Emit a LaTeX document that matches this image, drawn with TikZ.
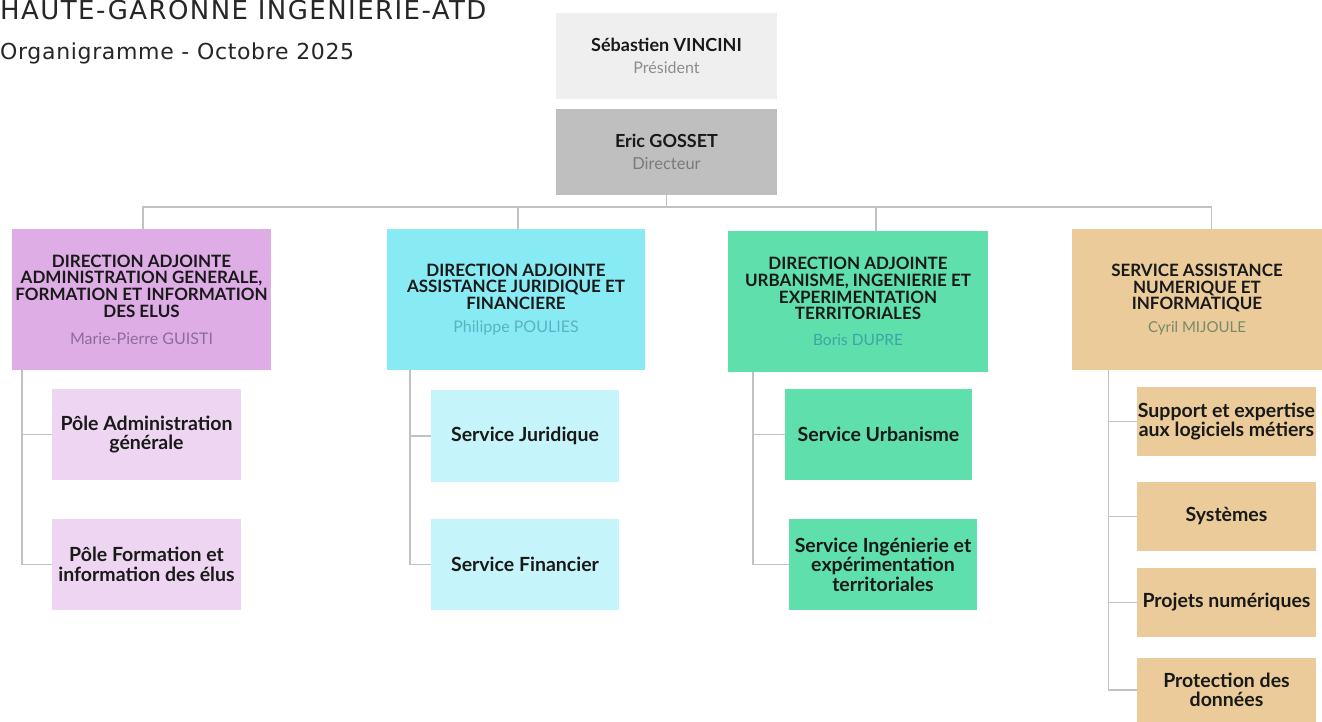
\documentclass[tikz,border=0pt]{standalone}
\usepackage{fontspec}
\setmainfont{Lato}
\newfontfamily\titlefont[LetterSpace=5.5]{DejaVu Sans}
\newfontfamily\subtitlefont[LetterSpace=3]{DejaVu Sans}
\usetikzlibrary{calc}

\definecolor{titlecol}{HTML}{262626}
\definecolor{presfill}{HTML}{EFEFEF}
\definecolor{dirfill}{HTML}{BFBFBF}
\definecolor{purplefill}{HTML}{DEADE6}
\definecolor{purplelight}{HTML}{EED6F2}
\definecolor{cyanfill}{HTML}{88EBF4}
\definecolor{cyanlight}{HTML}{C5F5FA}
\definecolor{greenfill}{HTML}{5EDFAB}
\definecolor{tanfill}{HTML}{EACB99}
\definecolor{linecol}{HTML}{C2C2C2}
\definecolor{presname}{HTML}{8C8C8C}
\definecolor{dirname}{HTML}{7A7A7A}
\definecolor{purplename}{HTML}{8E6C99}
\definecolor{cyanname}{HTML}{5AB2C2}
\definecolor{greenname}{HTML}{3CA5A6}
\definecolor{tanname}{HTML}{768A6A}

\tikzset{
  x=1pt, y=-1pt,
  box/.style={rectangle, inner sep=0pt, align=center, text=black!90},
  topbox/.style={box, minimum width=221pt, minimum height=86pt,
    font=\bfseries\fontsize{18}{20}\selectfont},
  headbox/.style={box, minimum height=141pt,
    font=\bfseries\fontsize{17}{16.7}\selectfont},
  subbox/.style={box, font=\bfseries\fontsize{19.5}{19.5}\selectfont},
  conn/.style={draw=linecol, line width=1.5pt},
}
\newcommand{\personname}[3][15.5]{{\mdseries\fontsize{#1}{16}\selectfont\color{#2}#3}}

\begin{document}
\begin{tikzpicture}
\useasboundingbox (0,0) rectangle (1322,722);
\fill[white] (0,0) rectangle (1322,722);

% heading
\node[anchor=base west, inner sep=0pt, text=titlecol,
      font=\titlefont\fontsize{26}{26}\selectfont] (title) at (0,20)
      {HAUTE-GARONNE INGENIERIE-ATD};
\node[anchor=base west, inner sep=0pt, text=titlecol,
      font=\subtitlefont\fontsize{22}{22}\selectfont] (subtitle) at (0,59.5)
      {Organigramme - Octobre 2025};

% top of the chart
\node[topbox, fill=presfill] (pres) at (666.5,56)
  {Sébastien VINCINI\\[2pt]\personname[16]{presname}{Président}};
\node[topbox, fill=dirfill] (dir) at (666.5,152)
  {Eric GOSSET\\[2pt]\personname[16.5]{dirname}{Directeur}};

% deputy directions and service
\node[headbox, fill=purplefill, minimum width=259pt] (da1) at (141.5,299.5)
  {DIRECTION ADJOINTE\\ADMINISTRATION GENERALE,\\FORMATION ET INFORMATION\\DES ELUS\\[10pt]\personname[16]{purplename}{Marie-Pierre GUISTI}};
\node[headbox, fill=cyanfill, minimum width=258pt] (da2) at (516,299.5)
  {DIRECTION ADJOINTE\\ASSISTANCE JURIDIQUE ET\\FINANCIERE\\[6pt]\personname[16]{cyanname}{Philippe POULIES}};
\node[headbox, fill=greenfill, minimum width=260pt] (da3) at (858,301.5)
  {DIRECTION ADJOINTE\\URBANISME, INGENIERIE ET\\EXPERIMENTATION\\TERRITORIALES\\[9pt]\personname[15.5]{greenname}{Boris DUPRE}};
\node[headbox, fill=tanfill, minimum width=250pt] (da4) at (1197,299.5)
  {SERVICE ASSISTANCE\\NUMERIQUE ET\\INFORMATIQUE\\[6pt]\personname[15]{tanname}{Cyril MIJOULE}};

% units
\node[subbox, fill=purplelight, minimum width=189pt, minimum height=91pt] (p1) at (146.5,434.5)
  {Pôle Administration\\générale};
\node[subbox, fill=purplelight, minimum width=189pt, minimum height=91pt] (p2) at (146.5,564.5)
  {Pôle Formation et\\information des élus};
\node[subbox, fill=cyanlight, minimum width=188pt, minimum height=92pt] (j1) at (525,436)
  {Service Juridique};
\node[subbox, fill=cyanlight, minimum width=188pt, minimum height=91pt] (j2) at (525,564.5)
  {Service Financier};
\node[subbox, fill=greenfill, minimum width=187pt, minimum height=91pt] (u1) at (878.5,434.5)
  {Service Urbanisme};
\node[subbox, fill=greenfill, minimum width=188pt, minimum height=91pt] (u2) at (883,564.5)
  {Service Ingénierie et\\expérimentation\\territoriales};
\node[subbox, fill=tanfill, minimum width=179pt, minimum height=69pt] (s1) at (1226.5,421.5)
  {Support et expertise\\aux logiciels métiers};
\node[subbox, fill=tanfill, minimum width=179pt, minimum height=69pt] (s2) at (1226.5,516.5)
  {Systèmes};
\node[subbox, fill=tanfill, minimum width=179pt, minimum height=69pt] (s3) at (1226.5,602.5)
  {Projets numériques};
\node[subbox, fill=tanfill, minimum width=179pt, minimum height=64pt] (s4) at (1226.5,690)
  {Protection des\\données};

% hierarchy lines
\coordinate (bus) at (666.5,207);
\draw[conn] (dir.south) -- (bus);
\draw[conn] ($(da1.north west)+(131,0)$) |- (bus);
\draw[conn] ($(da2.north west)+(131,0)$) |- (bus);
\draw[conn] ($(da3.north west)+(148,0)$) |- (bus);
\draw[conn] ($(da4.north west)+(139.5,0)$) |- (bus);

\draw[conn] ($(da1.south west)+(10,0)$) |- (p1.west);
\draw[conn] ($(da1.south west)+(10,0)$) |- (p2.west);
\draw[conn] ($(da2.south west)+(23,0)$) |- (j1.west);
\draw[conn] ($(da2.south west)+(23,0)$) |- (j2.west);
\draw[conn] ($(da3.south west)+(25,0)$) |- (u1.west);
\draw[conn] ($(da3.south west)+(25,0)$) |- (u2.west);
\draw[conn] ($(da4.south west)+(36.5,0)$) |- (s1.west);
\draw[conn] ($(da4.south west)+(36.5,0)$) |- (s2.west);
\draw[conn] ($(da4.south west)+(36.5,0)$) |- (s3.west);
\draw[conn] ($(da4.south west)+(36.5,0)$) |- (s4.west);
\end{tikzpicture}
\end{document}
